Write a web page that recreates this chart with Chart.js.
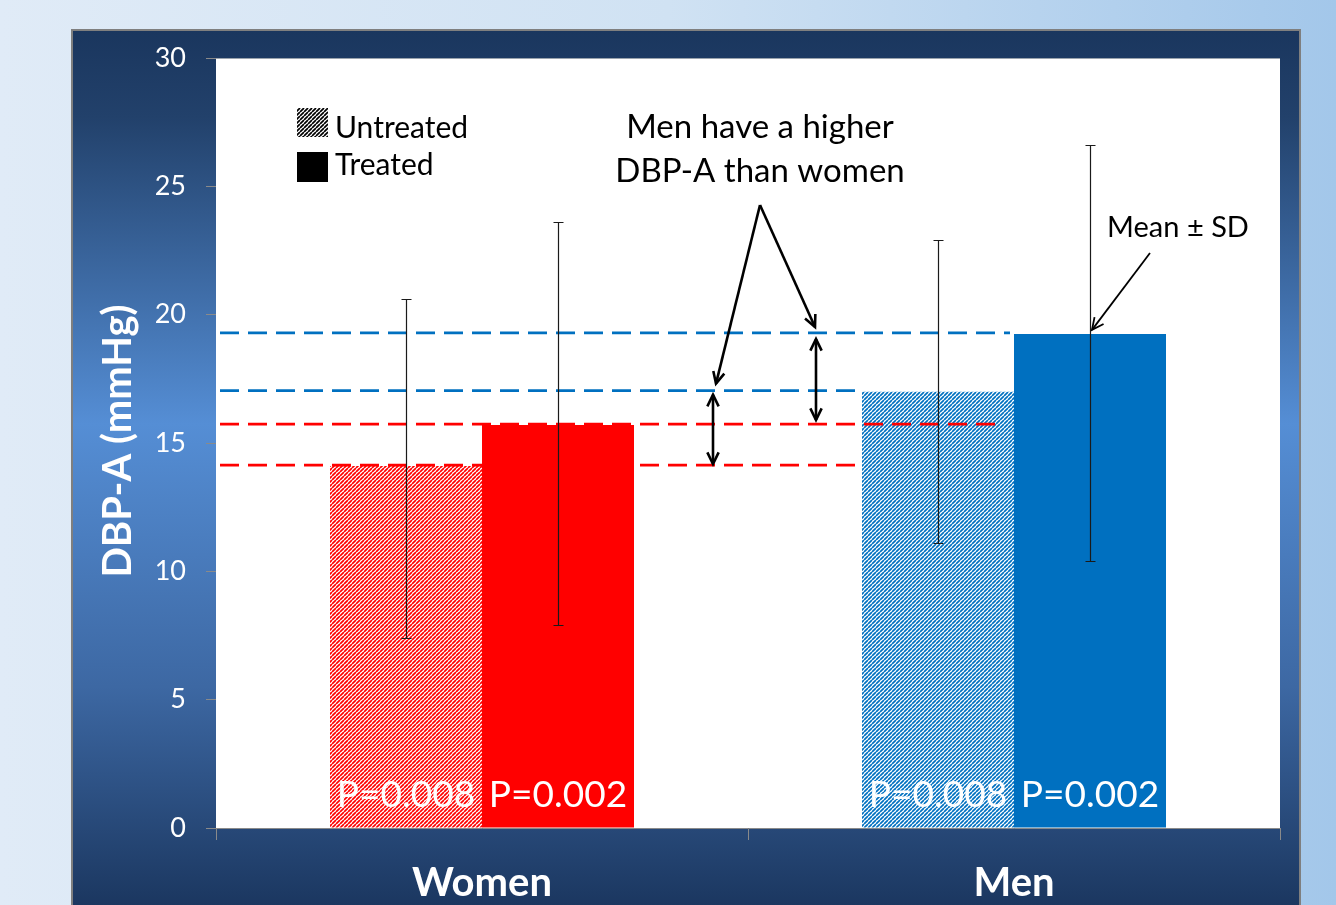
<!DOCTYPE html>
<html>
<head>
<meta charset="utf-8">
<script src="https://cdn.jsdelivr.net/npm/chart.js@4.4.0/dist/chart.umd.min.js"></script>
<style>
  html, body { margin: 0; padding: 0; overflow: hidden; background: #cfe0f2; }
  #wrap { position: relative; width: 1336px; height: 905px; }
</style>
</head>
<body>
<div id="wrap"><canvas id="c" width="1336" height="905"></canvas></div>
<script>
// ---- data ----
const categories = ['Women', 'Men'];
const seriesNames = ['Untreated', 'Treated'];
const untreated = [14.1, 17.0];
const treated = [15.7, 19.25];
const untreatedLow = [7.4, 11.1];
const untreatedHigh = [20.6, 22.9];
const treatedLow = [7.9, 10.4];
const treatedHigh = [23.6, 26.6];
const pLabels = ['P=0.008', 'P=0.002'];
const yTicks = [0, 5, 10, 15, 20, 25, 30];

// ---- styling ----
const RED = '#ff0000';
const BLUE = '#0070c0';
const FONT = 'Lato, "Open Sans", sans-serif';

function hatch(color) {
  const s = 4;
  const c = document.createElement('canvas');
  c.width = c.height = s;
  const g = c.getContext('2d');
  g.fillStyle = '#ffffff';
  g.fillRect(0, 0, s, s);
  g.strokeStyle = color;
  g.lineWidth = 1.7;
  g.beginPath();
  for (let k = -1; k <= 1; k++) {
    g.moveTo(k * s, s);
    g.lineTo(k * s + s, 0);
  }
  g.stroke();
  return g.createPattern(c, 'repeat');
}

const hatchRed = hatch(RED);
const hatchBlue = hatch(BLUE);
const hatchBlack = hatch('#000000');

function arrowHead(ctx, x1, y1, x2, y2, len) {
  const a = Math.atan2(y2 - y1, x2 - x1);
  const sp = 0.45;
  ctx.beginPath();
  ctx.moveTo(x2 - len * Math.cos(a - sp), y2 - len * Math.sin(a - sp));
  ctx.lineTo(x2, y2);
  ctx.lineTo(x2 - len * Math.cos(a + sp), y2 - len * Math.sin(a + sp));
  ctx.stroke();
}

function arrow(ctx, x1, y1, x2, y2, both) {
  ctx.beginPath();
  ctx.moveTo(x1, y1);
  ctx.lineTo(x2, y2);
  ctx.stroke();
  arrowHead(ctx, x1, y1, x2, y2, 13);
  if (both) arrowHead(ctx, x2, y2, x1, y1, 13);
}

// page background, framed panel and white plot area
const backdrop = {
  id: 'backdrop',
  beforeDraw(chart) {
    const ctx = chart.ctx;
    const W = chart.width, H = chart.height;
    const area = chart.chartArea;
    ctx.save();
    const bg = ctx.createLinearGradient(0, 0, W, 0);
    bg.addColorStop(0, '#e0ebf7');
    bg.addColorStop(0.5, '#d0e2f3');
    bg.addColorStop(1, '#a3c7ea');
    ctx.fillStyle = bg;
    ctx.fillRect(0, 0, W, H);

    const px = 72, py = 30, pw = 1228, ph = H - 30 + 5;
    const pg = ctx.createLinearGradient(0, py, 0, H);
    pg.addColorStop(0, '#1a365e');
    pg.addColorStop(0.1, '#22416b');
    pg.addColorStop(0.45, '#558ed5');
    pg.addColorStop(0.75, '#3d68a3');
    pg.addColorStop(1, '#1b3760');
    ctx.fillStyle = pg;
    ctx.fillRect(px, py, pw, ph);
    ctx.strokeStyle = '#7f7f7f';
    ctx.lineWidth = 2;
    ctx.strokeRect(px, py, pw, ph);

    ctx.fillStyle = '#ffffff';
    ctx.fillRect(area.left, area.top, area.right - area.left, area.bottom - area.top);
    ctx.strokeStyle = '#9aa3ad';
    ctx.lineWidth = 1;
    ctx.beginPath();
    ctx.moveTo(area.left, area.top + 0.5);
    ctx.lineTo(area.right, area.top + 0.5);
    ctx.stroke();
    ctx.restore();
  }
};

// reference lines, error bars, annotations, legend and P values
const overlay = {
  id: 'overlay',
  afterDatasetsDraw(chart) {
    const ctx = chart.ctx;
    const y = chart.scales.y;
    const area = chart.chartArea;
    const mU = chart.getDatasetMeta(0).data;
    const mT = chart.getDatasetMeta(1).data;
    const left = (el) => el.x - el.width / 2;
    const right = (el) => el.x + el.width / 2;
    ctx.save();

    // dashed comparison levels
    ctx.lineWidth = 2.7;
    ctx.setLineDash([19, 9]);
    const dashed = (val, x2, color) => {
      ctx.strokeStyle = color;
      ctx.beginPath();
      ctx.moveTo(area.left + 4, y.getPixelForValue(val) - 1);
      ctx.lineTo(x2, y.getPixelForValue(val) - 1);
      ctx.stroke();
    };
    dashed(treated[1], left(mT[1]) - 4, BLUE);
    dashed(untreated[1], left(mU[1]) - 2, BLUE);
    dashed(treated[0], right(mU[1]) - 12, RED);
    dashed(untreated[0], left(mU[1]) - 2, RED);
    ctx.setLineDash([]);

    // error bars (mean ± SD)
    ctx.strokeStyle = '#1a1a1a';
    ctx.lineWidth = 1.2;
    const err = (el, lo, hi) => {
      const yl = Math.round(y.getPixelForValue(lo)) + 0.5;
      const yh = Math.round(y.getPixelForValue(hi)) + 0.5;
      const x = Math.round(el.x) + 0.5;
      ctx.beginPath();
      ctx.moveTo(x, yl); ctx.lineTo(x, yh);
      ctx.moveTo(x - 5, yl); ctx.lineTo(x + 5, yl);
      ctx.moveTo(x - 5, yh); ctx.lineTo(x + 5, yh);
      ctx.stroke();
    };
    for (let i = 0; i < categories.length; i++) {
      err(mU[i], untreatedLow[i], untreatedHigh[i]);
      err(mT[i], treatedLow[i], treatedHigh[i]);
    }

    // P values inside the bars
    ctx.fillStyle = '#ffffff';
    ctx.font = '37px ' + FONT;
    ctx.textAlign = 'center';
    ctx.textBaseline = 'alphabetic';
    const yp = y.getPixelForValue(0) - 21;
    for (let i = 0; i < categories.length; i++) {
      ctx.fillText(pLabels[0], mU[i].x, yp);
      ctx.fillText(pLabels[1], mT[i].x, yp);
    }

    // difference arrows between the two sexes
    ctx.strokeStyle = '#000000';
    ctx.lineWidth = 2.6;
    const xa = 713, xb = 816;
    arrow(ctx, xa, y.getPixelForValue(untreated[1]) + 3, xa, y.getPixelForValue(untreated[0]) - 2, true);
    arrow(ctx, xb, y.getPixelForValue(treated[1]) + 5, xb, y.getPixelForValue(treated[0]) - 5, true);
    arrow(ctx, 760, 205, 716, y.getPixelForValue(untreated[1]) - 8, false);
    arrow(ctx, 760, 205, 815, y.getPixelForValue(treated[1]) - 7, false);

    ctx.fillStyle = '#000000';
    ctx.font = '33px ' + FONT;
    ctx.textAlign = 'center';
    ctx.fillText('Men have a higher', 760, 138);
    ctx.fillText('DBP-A than women', 760, 182);

    // mean ± SD pointer
    ctx.lineWidth = 1.8;
    arrow(ctx, 1150, 253, mT[1].x + 2, y.getPixelForValue(treated[1]) - 4, false);
    ctx.font = '29px ' + FONT;
    ctx.fillText('Mean \u00b1 SD', 1178, 237);

    // legend
    ctx.fillStyle = hatchBlack;
    ctx.fillRect(297, 108, 31, 29);
    ctx.fillStyle = '#000000';
    ctx.fillRect(297, 152, 31, 30);
    ctx.font = '30px ' + FONT;
    ctx.textAlign = 'left';
    ctx.fillText(seriesNames[0], 335, 138);
    ctx.fillText(seriesNames[1], 335, 175);

    // y axis title
    ctx.translate(131, 441);
    ctx.rotate(-Math.PI / 2);
    ctx.fillStyle = '#ffffff';
    ctx.font = 'bold 40px ' + FONT;
    ctx.textAlign = 'center';
    ctx.fillText('DBP-A (mmHg)', 0, 0);
    ctx.restore();
  }
};

new Chart(document.getElementById('c'), {
  type: 'bar',
  data: {
    labels: categories,
    datasets: [
      { label: seriesNames[0], data: untreated, backgroundColor: [hatchRed, hatchBlue], borderWidth: 0 },
      { label: seriesNames[1], data: treated, backgroundColor: [RED, BLUE], borderWidth: 0 }
    ]
  },
  options: {
    responsive: false,
    animation: false,
    devicePixelRatio: 1,
    layout: { padding: { left: 0, right: 56, top: 58, bottom: 0 } },
    datasets: { bar: { categoryPercentage: 304 / 532, barPercentage: 1.0 } },
    plugins: { legend: { display: false }, tooltip: { enabled: false } },
    scales: {
      x: {
        grid: { display: true, drawOnChartArea: false, offset: true, color: '#8a8a8a', tickLength: 12 },
        border: { display: true, color: '#8a8a8a' },
        ticks: { color: '#ffffff', font: { family: FONT, size: 40, weight: 'bold' }, padding: 19 },
        afterFit(s) { s.height = 77; }
      },
      y: {
        min: 0, max: 30,
        afterBuildTicks(s) { s.ticks = yTicks.map(v => ({ value: v })); },
        grid: { drawOnChartArea: false, color: '#8a8a8a', tickLength: 10 },
        border: { display: false },
        ticks: { color: '#ffffff', font: { family: FONT, size: 27 }, padding: 20 },
        afterFit(s) { s.width = 216; }
      }
    }
  },
  plugins: [backdrop, overlay]
});
</script>
</body>
</html>
